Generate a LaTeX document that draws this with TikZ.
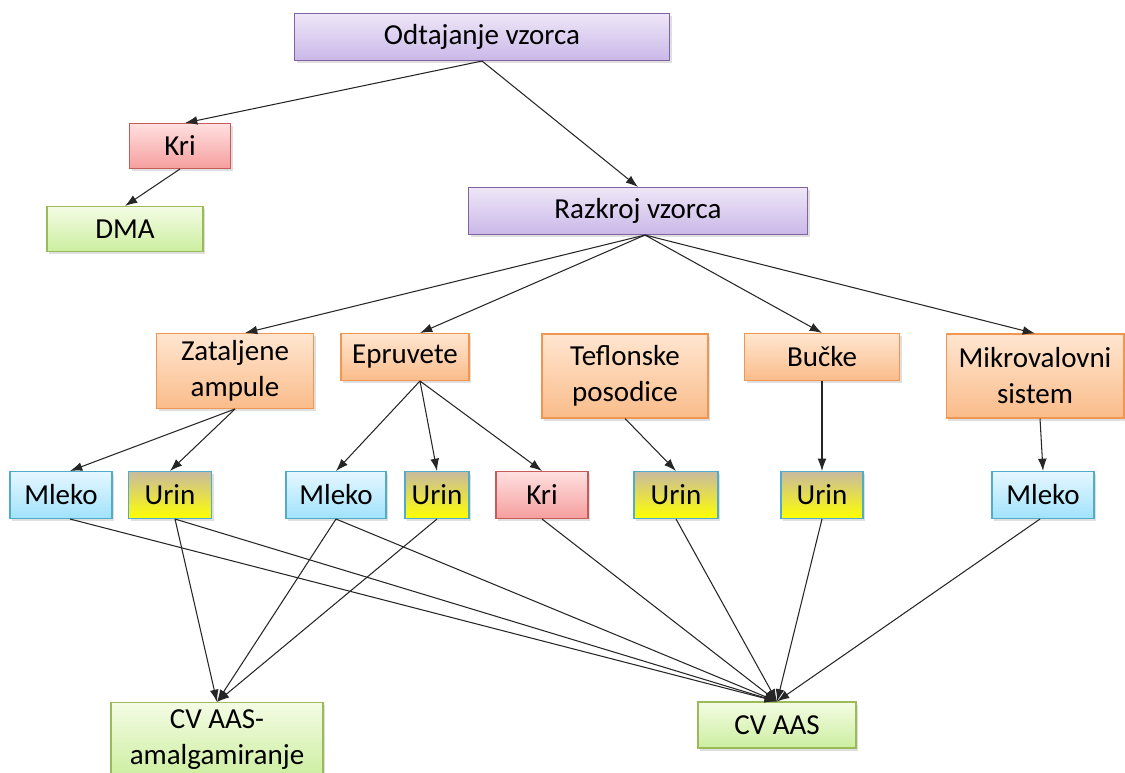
\documentclass[tikz,border=0pt]{standalone}
\usepackage{fontspec}
\setmainfont{Carlito}
\usetikzlibrary{positioning, arrows.meta, shadows}
\definecolor{cPurpleT}{RGB}{238, 230, 247}
\definecolor{cPurpleB}{RGB}{202, 184, 232}
\definecolor{cPurpleD}{RGB}{128, 100, 162}
\definecolor{cRedT}{RGB}{255, 224, 224}
\definecolor{cRedB}{RGB}{246, 158, 158}
\definecolor{cRedD}{RGB}{200, 90, 90}
\definecolor{cGreenT}{RGB}{244, 252, 228}
\definecolor{cGreenB}{RGB}{204, 238, 160}
\definecolor{cGreenD}{RGB}{155, 187, 89}
\definecolor{cOrangeT}{RGB}{255, 230, 208}
\definecolor{cOrangeB}{RGB}{250, 188, 138}
\definecolor{cOrangeD}{RGB}{240, 150, 80}
\definecolor{cBlueT}{RGB}{230, 247, 255}
\definecolor{cBlueB}{RGB}{160, 226, 252}
\definecolor{cBlueD}{RGB}{80, 172, 200}
\definecolor{cUrinT}{RGB}{200, 186, 160}
\definecolor{cUrinB}{RGB}{255, 255, 0}

\begin{document}
\begin{tikzpicture}[
    x=0.02cm, y=-0.02cm,
    font=\fontsize{16.5}{20.5}\selectfont,
    box/.style={rectangle, inner sep=0pt, align=center, line width=0.6pt,
        drop shadow={shadow xshift=1.2pt, shadow yshift=-1.5pt, opacity=0.25}},
    purplebox/.style={box, draw=cPurpleD, top color=cPurpleT, bottom color=cPurpleB},
    redbox/.style={box, draw=cRedD, top color=cRedT, bottom color=cRedB},
    greenbox/.style={box, draw=cGreenD, top color=cGreenT, bottom color=cGreenB},
    orangebox/.style={box, draw=cOrangeD, top color=cOrangeT, bottom color=cOrangeB},
    bluebox/.style={box, draw=cBlueD, top color=cBlueT, bottom color=cBlueB},
    urinbox/.style={box, draw=cBlueD, top color=cUrinT, bottom color=cUrinB},
    conn/.style={-{Latex[length=7pt, width=5pt]}, line width=0.6pt, black!85}
]
    \useasboundingbox (0,0) rectangle (1125,773);

    % --- zgornji del ---
    \node (odt) at (482,37) [purplebox, minimum width=7.5cm, minimum height=0.94cm] {Odtajanje vzorca};
    \node (kri) at (180,146) [redbox, minimum width=2.02cm, minimum height=0.9cm] {Kri};
    \node (dma) at (125,229) [greenbox, minimum width=3.12cm, minimum height=0.9cm] {DMA};
    \node (razk) at (638,211) [purplebox, minimum width=6.78cm, minimum height=0.94cm] {Razkroj vzorca};

    % --- posode ---
    \node (zat) at (235,371) [orangebox, minimum width=3.14cm, minimum height=1.5cm] {Zataljene\\ampule};
    \node (epr) at (405,357) [orangebox, minimum width=2.56cm, minimum height=0.94cm] {Epruvete};
    \node (tef) at (625,376) [orangebox, minimum width=3.32cm, minimum height=1.68cm] {Teflonske\\posodice};
    \node (buc) at (822,357) [orangebox, minimum width=3.1cm, minimum height=0.94cm] {Bučke};
    \node (mikro) at (1035,376) [orangebox, minimum width=3.56cm, minimum height=1.68cm] {Mikrovalovni\\sistem};

    % --- vzorci ---
    \node (mleko1) at (61,495) [bluebox, minimum width=2.04cm, minimum height=0.94cm] {Mleko};
    \node (urin1) at (170,495) [urinbox, minimum width=1.66cm, minimum height=0.94cm] {Urin};
    \node (mleko2) at (336,495) [bluebox, minimum width=2.0cm, minimum height=0.94cm] {Mleko};
    \node (urin2) at (437,495) [urinbox, minimum width=1.28cm, minimum height=0.94cm] {Urin};
    \node (kri2) at (542,495) [redbox, minimum width=1.84cm, minimum height=0.94cm] {Kri};
    \node (urin3) at (676,495) [urinbox, minimum width=1.68cm, minimum height=0.94cm] {Urin};
    \node (urin4) at (822,495) [urinbox, minimum width=1.64cm, minimum height=0.94cm] {Urin};
    \node (mleko3) at (1043,495) [bluebox, minimum width=2.04cm, minimum height=0.94cm] {Mleko};

    % --- detekcija ---
    \node (amal) at (217,740) [greenbox, minimum width=4.24cm, minimum height=1.5cm] {CV AAS-\\amalgamiranje};
    \node (cvaas) at (777,725) [greenbox, minimum width=3.16cm, minimum height=0.92cm] {CV AAS};

    % Puscice
    \draw[conn] (odt.south) -- ([xshift=0.1cm]kri.north);
    \draw[conn] (odt.south) -- (razk.north);
    \draw[conn] (kri.south) -- (dma.north);
    \draw[conn] ([xshift=0.14cm]razk.south) -- ([xshift=0.2cm]zat.north);
    \draw[conn] ([xshift=0.14cm]razk.south) -- ([xshift=0.3cm]epr.north);
    \draw[conn] ([xshift=0.14cm]razk.south) -- (buc.north);
    \draw[conn] ([xshift=0.14cm]razk.south) -- (mikro.north);

    \draw[conn] (zat.south) -- ([xshift=0.18cm]mleko1.north);
    \draw[conn] (zat.south) -- (urin1.north);
    \draw[conn] ([xshift=0.3cm]epr.south) -- (mleko2.north);
    \draw[conn] ([xshift=0.3cm]epr.south) -- (urin2.north);
    \draw[conn] ([xshift=0.3cm]epr.south) -- (kri2.north);
    \draw[conn] (tef.south) -- (urin3.north);
    \draw[conn] (buc.south) -- (urin4.north);
    \draw[conn] ([xshift=0.1cm]mikro.south) -- (mleko3.north);

    % Do detektorjev
    \draw[conn] ([xshift=0.18cm]mleko1.south) -- (cvaas.north);
    \draw[conn] ([xshift=0.1cm]urin1.south) -- (amal.north);
    \draw[conn] ([xshift=0.1cm]urin1.south) -- (cvaas.north);
    \draw[conn] (mleko2.south) -- (amal.north);
    \draw[conn] (mleko2.south) -- (cvaas.north);
    \draw[conn] (urin2.south) -- (amal.north);
    \draw[conn] (kri2.south) -- (cvaas.north);
    \draw[conn] (urin3.south) -- (cvaas.north);
    \draw[conn] (urin4.south) -- (cvaas.north);
    \draw[conn] ([xshift=-0.06cm]mleko3.south) -- (cvaas.north);

\end{tikzpicture}
\end{document}
